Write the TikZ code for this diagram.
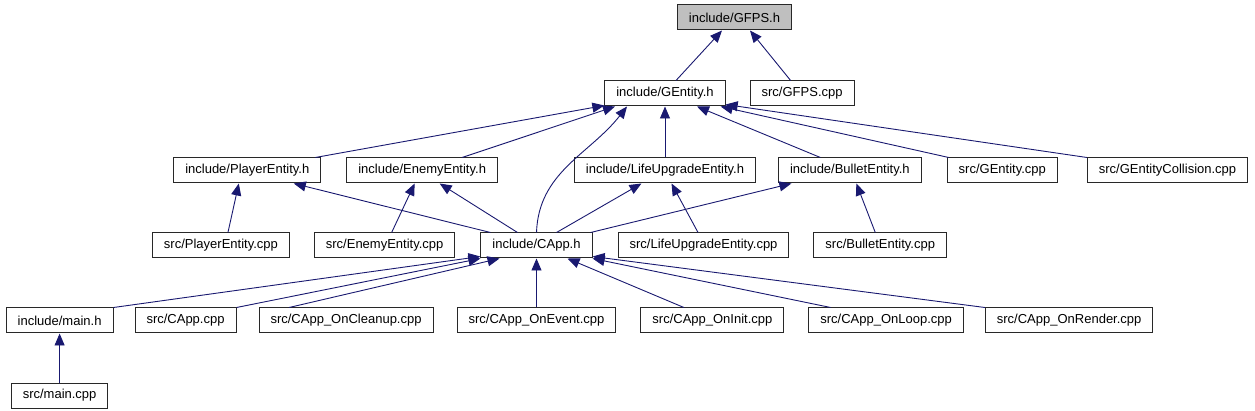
\documentclass[tikz,border=0pt]{standalone}
\usepackage{fontspec}
\setmainfont{Liberation Sans}
\usepackage{tikz}
\usetikzlibrary{arrows.meta, positioning}
\usepackage{xcolor}
\definecolor{cEdge}{RGB}{25,25,112}
\definecolor{cGray}{RGB}{191,191,191}
\definecolor{cBorder}{RGB}{40,40,40}
\tikzset{
  filebox/.style={rectangle, draw=cBorder, fill=white, line width=1pt,
                  inner xsep=11.5pt, inner ysep=0pt, minimum height=25pt,
                  font=\fontsize{13pt}{15pt}\selectfont},
  rootbox/.style={filebox, fill=cGray},
  deparrow/.style={->, >={Triangle[length=12pt,width=10pt]}, line width=0.9pt,
                   color=cEdge}
}

\begin{document}
\begin{tikzpicture}[node distance=49pt and 24pt]

  \useasboundingbox (0,0) rectangle (1255pt,-411pt);

  \node[rootbox] (gfpsh) at (734.5pt,-17.5pt) {include/GFPS.h};

  % -- level 1 --
  \node[filebox, below=50pt of gfpsh, xshift=-69.5pt] (gentityh) {include/GEntity.h};
  \node[filebox, right=24pt of gentityh] (gfpscpp) {src/GFPS.cpp};

  % -- level 2 --
  \node[filebox, below=51pt of gentityh] (lifeh) {include/LifeUpgradeEntity.h};
  \node[filebox, left=76pt of lifeh] (enemyh) {include/EnemyEntity.h};
  \node[filebox, left=25pt of enemyh] (playerh) {include/PlayerEntity.h};
  \node[filebox, right=22pt of lifeh] (bulleth) {include/BulletEntity.h};
  \node[filebox, right=25pt of bulleth] (gentitycpp) {src/GEntity.cpp};
  \node[filebox, right=29pt of gentitycpp] (collcpp) {src/GEntityCollision.cpp};

  % -- level 3 --
  \node[filebox, below=of lifeh, xshift=-128.5pt] (capph) {include/CApp.h};
  \node[filebox, left=25pt of capph] (enemycpp) {src/EnemyEntity.cpp};
  \node[filebox, left=of enemycpp] (playercpp) {src/PlayerEntity.cpp};
  \node[filebox, right=25pt of capph] (lifecpp) {src/LifeUpgradeEntity.cpp};
  \node[filebox, right=of lifecpp] (bulletcpp) {src/BulletEntity.cpp};

  % -- level 4 --
  \node[filebox, below=of capph] (onevent) {src/CApp\_OnEvent.cpp};
  \node[filebox, left=23pt of onevent] (oncleanup) {src/CApp\_OnCleanup.cpp};
  \node[filebox, left=22pt of oncleanup] (cappcpp) {src/CApp.cpp};
  \node[filebox, left=21pt of cappcpp] (mainh) {include/main.h};
  \node[filebox, right=of onevent] (oninit) {src/CApp\_OnInit.cpp};
  \node[filebox, right=of oninit] (onloop) {src/CApp\_OnLoop.cpp};
  \node[filebox, right=21pt of onloop] (onrender) {src/CApp\_OnRender.cpp};

  % -- level 5 --
  \node[filebox, below=of mainh] (maincpp) {src/main.cpp};

  \draw[deparrow] ([xshift=11pt]gentityh.north) -- ([xshift=-12.5pt]gfpsh.south);
  \draw[deparrow] ([xshift=-11.5pt]gfpscpp.north) -- ([xshift=15.5pt]gfpsh.south);

  \draw[deparrow] ([xshift=68pt]playerh.north) -- ([yshift=1pt]gentityh.south west);
  \draw[deparrow] ([xshift=40pt]enemyh.north) -- ([xshift=-50pt]gentityh.south);
  \draw[deparrow] (capph.north) to[out=88,in=-128] ([xshift=-38pt]gentityh.south);
  \draw[deparrow] (lifeh.north) -- (gentityh.south);
  \draw[deparrow] ([xshift=-29.5pt]bulleth.north) -- ([xshift=32pt]gentityh.south);
  \draw[deparrow] ([xshift=2pt]gentitycpp.north west) -- ([xshift=-5pt]gentityh.south east);
  \draw[deparrow] (collcpp.north west) -- ([yshift=2pt]gentityh.south east);

  \draw[deparrow] ([xshift=7pt]playercpp.north) -- ([xshift=-8.5pt]playerh.south);
  \draw[deparrow] ([xshift=10pt]capph.north west) -- ([xshift=46.5pt]playerh.south);
  \draw[deparrow] ([xshift=7pt]enemycpp.north) -- ([xshift=-7.5pt]enemyh.south);
  \draw[deparrow] ([xshift=-19pt]capph.north) -- ([xshift=17.5pt]enemyh.south);
  \draw[deparrow] ([xshift=20pt]capph.north) -- ([xshift=-23.5pt]lifeh.south);
  \draw[deparrow] ([xshift=-5.5pt]lifecpp.north) -- ([xshift=6.5pt]lifeh.south);
  \draw[deparrow] ([xshift=-2pt]capph.north east) -- ([xshift=-58.5pt]bulleth.south);
  \draw[deparrow] ([xshift=-5pt]bulletcpp.north) -- ([xshift=6.5pt]bulleth.south);

  \draw[deparrow] (mainh.north east) -- ([yshift=2pt]capph.south west);
  \draw[deparrow] (cappcpp.north east) -- (capph.south west);
  \draw[deparrow] ([xshift=-57pt]oncleanup.north) -- ([xshift=-37pt]capph.south);
  \draw[deparrow] (onevent.north) -- (capph.south);
  \draw[deparrow] ([xshift=-28.5pt]oninit.north) -- ([xshift=31pt]capph.south);
  \draw[deparrow] ([xshift=-55.5pt]onloop.north) -- (capph.south east);
  \draw[deparrow] (onrender.north west) -- ([yshift=2pt]capph.south east);

  \draw[deparrow] (maincpp.north) -- (mainh.south);

\end{tikzpicture}
\end{document}
